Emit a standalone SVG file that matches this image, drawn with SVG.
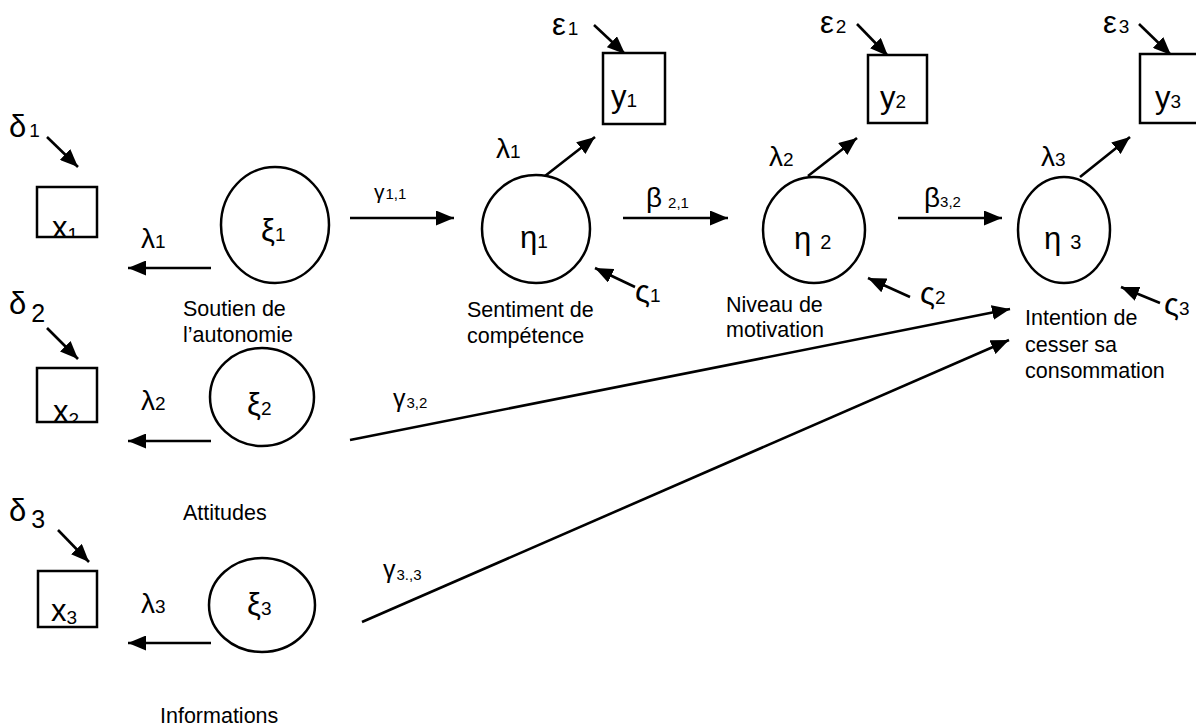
<svg xmlns="http://www.w3.org/2000/svg" width="1196" height="728" viewBox="0 0 1196 728">
  <style>
    text { font-family: "Liberation Sans", Arial, sans-serif; fill: #000; }
    .gk { font-size: 31px; }
    .lm { font-size: 28px; }
    .sm { font-size: 19px; }
    .tiny { font-size: 15px; }
    .lbl { font-size: 21.5px; }
    .box { fill: #fff; stroke: #000; stroke-width: 2.5; }
    .lat { fill: #fff; stroke: #000; stroke-width: 2.5; }
    .edge { stroke: #000; stroke-width: 2.6; fill: none; marker-end: url(#head); }
  </style>
  <defs>
    <marker id="head" markerUnits="userSpaceOnUse" markerWidth="19" markerHeight="15" refX="18" refY="7.5" orient="auto">
      <path d="M0,0 L18,7.5 L0,15 z" fill="#000"/>
    </marker>
    <clipPath id="clipX1"><rect x="38" y="188" width="58" height="48"/></clipPath>
    <clipPath id="clipX2"><rect x="38" y="369" width="58" height="52"/></clipPath>
    <clipPath id="clipX3"><rect x="39" y="572" width="57" height="54"/></clipPath>
  </defs>
  <rect width="1196" height="728" fill="#fff"/>

  <!-- connectors -->
  <g id="connectors">
    <!-- error terms on observed x -->
    <line class="edge" x1="47" y1="137" x2="78" y2="167"/>
    <line class="edge" x1="47" y1="328" x2="78" y2="359"/>
    <line class="edge" x1="58" y1="530" x2="89" y2="562"/>
    <!-- loadings xi -> x -->
    <line class="edge" x1="211" y1="268" x2="128" y2="268"/>
    <line class="edge" x1="211" y1="441" x2="128" y2="441"/>
    <line class="edge" x1="211" y1="643" x2="128" y2="643"/>
    <!-- structural paths -->
    <line class="edge" x1="350" y1="218" x2="454" y2="218"/>
    <line class="edge" x1="623" y1="218" x2="728" y2="218"/>
    <line class="edge" x1="898" y1="218" x2="1002" y2="218"/>
    <line class="edge" x1="350" y1="440" x2="1010" y2="309"/>
    <line class="edge" x1="362" y1="622" x2="1009" y2="340"/>
    <!-- loadings eta -> y -->
    <line class="edge" x1="545" y1="176" x2="595" y2="137"/>
    <line class="edge" x1="808" y1="176" x2="857" y2="138"/>
    <line class="edge" x1="1080" y1="177" x2="1130" y2="137"/>
    <!-- error terms on observed y -->
    <line class="edge" x1="594" y1="25" x2="625" y2="54"/>
    <line class="edge" x1="857" y1="24" x2="888" y2="56"/>
    <line class="edge" x1="1139" y1="24" x2="1171" y2="55"/>
    <!-- disturbances -->
    <line class="edge" x1="635" y1="287" x2="595" y2="268"/>
    <line class="edge" x1="910" y1="297" x2="868" y2="278"/>
    <line class="edge" x1="1160" y1="303" x2="1121" y2="287"/>
  </g>

  <!-- edge labels -->
  <g id="edge-labels">
    <text class="gk" x="9" y="137">δ<tspan class="sm" dx="3">1</tspan></text>
    <text class="gk" x="9" y="314">δ<tspan font-size="25px" dx="5" dy="8">2</tspan></text>
    <text class="gk" x="9" y="521">δ<tspan font-size="25px" dx="5" dy="7">3</tspan></text>
    <text class="lm" x="141" y="248">λ<tspan class="sm">1</tspan></text>
    <text class="lm" x="141" y="410">λ<tspan class="sm">2</tspan></text>
    <text class="lm" x="141" y="613">λ<tspan class="sm">3</tspan></text>
    <text font-size="21px" x="374" y="199">γ<tspan class="tiny" dx="1">1,1</tspan></text>
    <text class="lm" x="646" y="207">β<tspan class="tiny" dx="6" dy="1">2,1</tspan></text>
    <text class="lm" x="924" y="207">β<tspan class="tiny">3,2</tspan></text>
    <text font-size="25px" x="393" y="407">γ<tspan class="tiny" dx="1" dy="1">3,2</tspan></text>
    <text font-size="25px" x="383" y="578">γ<tspan class="tiny" dx="1" dy="2">3.,3</tspan></text>
    <text class="lm" x="496" y="158">λ<tspan class="sm">1</tspan></text>
    <text class="lm" x="769" y="166">λ<tspan class="sm">2</tspan></text>
    <text class="lm" x="1041" y="166">λ<tspan class="sm">3</tspan></text>
    <text class="gk" x="552" y="35">ε<tspan class="sm" dx="2">1</tspan></text>
    <text class="gk" x="820" y="33">ε<tspan class="sm" dx="2">2</tspan></text>
    <text class="gk" x="1103" y="33">ε<tspan class="sm" dx="2">3</tspan></text>
    <text class="gk" x="635" y="302">ς<tspan class="sm">1</tspan></text>
    <text class="gk" x="920" y="304">ς<tspan class="sm">2</tspan></text>
    <text class="gk" x="1164" y="315">ς<tspan class="sm">3</tspan></text>
  </g>

  <!-- observed x -->
  <g id="x1">
    <rect class="box" x="37" y="187" width="60" height="50"/>
    <text class="gk" x="52" y="238" clip-path="url(#clipX1)">x<tspan class="sm" dy="3">1</tspan></text>
  </g>
  <g id="x2">
    <rect class="box" x="37" y="368" width="60" height="54"/>
    <text class="gk" x="53" y="422" clip-path="url(#clipX2)">x<tspan class="sm" dy="4">2</tspan></text>
  </g>
  <g id="x3">
    <rect class="box" x="38" y="571" width="59" height="56"/>
    <text class="gk" x="51" y="621" clip-path="url(#clipX3)">x<tspan class="sm" dy="3">3</tspan></text>
  </g>

  <!-- exogenous latent variables -->
  <g id="xi1">
    <ellipse class="lat" cx="275" cy="225" rx="54" ry="58"/>
    <text class="gk" x="261" y="241">ξ<tspan class="sm">1</tspan></text>
    <text class="lbl" x="183" y="316">Soutien de</text>
    <text class="lbl" x="183" y="342">l’autonomie</text>
  </g>
  <g id="xi2">
    <ellipse class="lat" cx="262" cy="397" rx="52" ry="49"/>
    <text class="gk" x="247" y="415">ξ<tspan class="sm">2</tspan></text>
    <text class="lbl" x="183" y="520">Attitudes</text>
  </g>
  <g id="xi3">
    <ellipse class="lat" cx="262" cy="605" rx="53" ry="47"/>
    <text class="gk" x="247" y="615">ξ<tspan class="sm">3</tspan></text>
    <text class="lbl" x="160" y="723">Informations</text>
  </g>

  <!-- endogenous latent variables -->
  <g id="eta1">
    <ellipse class="lat" cx="536" cy="229" rx="54" ry="54"/>
    <text class="gk" x="520" y="248">η<tspan class="sm">1</tspan></text>
    <text class="lbl" x="467" y="317">Sentiment de</text>
    <text class="lbl" x="467" y="343">compétence</text>
  </g>
  <g id="eta2">
    <ellipse class="lat" cx="814" cy="230" rx="51" ry="53"/>
    <text class="gk" x="794" y="249">η<tspan font-size="20px" dx="9">2</tspan></text>
    <text class="lbl" x="726" y="312">Niveau de</text>
    <text class="lbl" x="726" y="337">motivation</text>
  </g>
  <g id="eta3">
    <ellipse class="lat" cx="1064" cy="230" rx="46" ry="53"/>
    <text class="gk" x="1044" y="249">η<tspan font-size="20px" dx="9">3</tspan></text>
    <text class="lbl" x="1025" y="325">Intention de</text>
    <text class="lbl" x="1025" y="352">cesser sa</text>
    <text class="lbl" x="1025" y="378">consommation</text>
  </g>

  <!-- observed y -->
  <g id="y1">
    <rect class="box" x="603" y="53" width="62" height="71"/>
    <text class="gk" x="611" y="107">y<tspan class="sm">1</tspan></text>
  </g>
  <g id="y2">
    <rect class="box" x="868" y="55" width="59" height="68"/>
    <text class="gk" x="880" y="108">y<tspan class="sm">2</tspan></text>
  </g>
  <g id="y3">
    <rect class="box" x="1140" y="54" width="62" height="69"/>
    <text class="gk" x="1155" y="108">y<tspan class="sm">3</tspan></text>
  </g>
</svg>
